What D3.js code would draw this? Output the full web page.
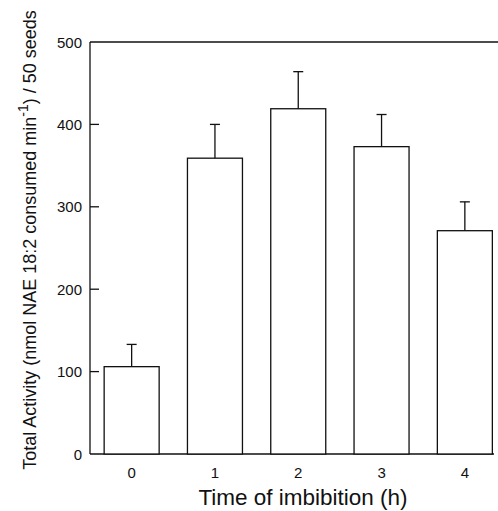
<!DOCTYPE html>
<html>
<head>
<meta charset="utf-8">
<script src="https://cdn.jsdelivr.net/npm/d3@7"></script>
<style>
  body { margin: 0; background: #fff; }
  text { font-family: "Liberation Sans", Arial, sans-serif; fill: #111; }
</style>
</head>
<body>
<div id="chart"></div>
<script>
var hours = [0, 1, 2, 3, 4];
var activity = [106, 359, 419, 373, 271];
var errorTop = [133, 400, 464, 412, 306];
var yTicks = [0, 100, 200, 300, 400, 500];

var width = 498, height = 511;
var margin = {top: 42, left: 90, bottom: 57};

var svg = d3.select("#chart").append("svg")
	.attr("width", width)
	.attr("height", height);

// x domain runs a little past the picture on the right, like the original scan
var x = d3.scaleLinear().domain([-0.5, 4.5]).range([margin.left, 506.5]);
var y = d3.scaleLinear().domain([0, 500]).range([height - margin.bottom, margin.top]);
var barW = 55;

var g = svg.append("g").attr("stroke", "#111").attr("stroke-width", 1.3).attr("fill", "none");

// frame: left, bottom, top
g.append("line").attr("x1", margin.left).attr("x2", margin.left).attr("y1", y(0)).attr("y2", y(500));
g.append("line").attr("x1", margin.left).attr("x2", 494).attr("y1", y(0)).attr("y2", y(0));
g.append("line").attr("x1", margin.left).attr("x2", width).attr("y1", y(500)).attr("y2", y(500));

// inward y ticks
g.selectAll(".ytick").data(yTicks.slice(1, 5)).enter().append("line")
	.attr("x1", margin.left).attr("x2", margin.left + 9)
	.attr("y1", function(d){ return y(d); }).attr("y2", function(d){ return y(d); });

svg.selectAll(".ylab").data(yTicks).enter().append("text")
	.attr("x", 82).attr("y", function(d){ return y(d) + 5.5; })
	.attr("text-anchor", "end").style("font-size", "15px")
	.text(function(d){ return d; });

// bars
g.selectAll(".bar").data(hours).enter().append("rect")
	.attr("x", function(d){ return x(d) - barW / 2; })
	.attr("y", function(d, i){ return y(activity[i]); })
	.attr("width", barW)
	.attr("height", function(d, i){ return y(0) - y(activity[i]); })
	.attr("fill", "#fff");

// error bars (upper only)
g.selectAll(".err").data(hours).enter().append("line")
	.attr("x1", function(d){ return x(d); }).attr("x2", function(d){ return x(d); })
	.attr("y1", function(d, i){ return y(activity[i]); })
	.attr("y2", function(d, i){ return y(errorTop[i]); });
g.selectAll(".cap").data(hours).enter().append("line")
	.attr("x1", function(d){ return x(d) - 5; }).attr("x2", function(d){ return x(d) + 5; })
	.attr("y1", function(d, i){ return y(errorTop[i]); })
	.attr("y2", function(d, i){ return y(errorTop[i]); });

svg.selectAll(".xlab").data(hours).enter().append("text")
	.attr("x", function(d){ return x(d); }).attr("y", 478)
	.attr("text-anchor", "middle").style("font-size", "15px")
	.text(function(d){ return d; });

svg.append("text")
	.attr("x", 303).attr("y", 505)
	.attr("text-anchor", "middle").style("font-size", "22.5px")
	.text("Time of imbibition (h)");

var ylab = svg.append("text")
	.attr("transform", "translate(36," + 240 + ") rotate(-90)")
	.attr("text-anchor", "middle").style("font-size", "18px");
ylab.append("tspan").text("Total Activity (nmol NAE 18:2 consumed min");
ylab.append("tspan").attr("dy", -8).style("font-size", "14px").text("-1");
ylab.append("tspan").attr("dy", 8).text(") / 50 seeds");
</script>
</body>
</html>
